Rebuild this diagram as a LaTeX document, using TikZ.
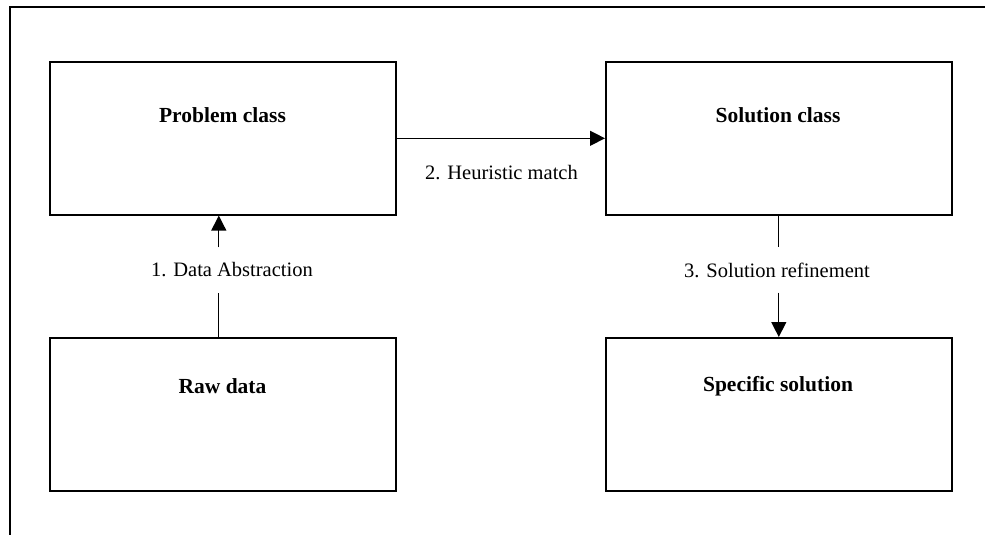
\documentclass[tikz,border=0pt]{standalone}
\usepackage{fontspec}
\setmainfont{Liberation Serif}
\usetikzlibrary{arrows.meta,calc}
\begin{document}
\begin{tikzpicture}[x=1pt,y=-1pt,
  box/.style={draw,line width=1.6pt,minimum width=346pt,minimum height=153pt,anchor=north west,inner sep=0pt},
  boxlabel/.style={font=\fontsize{21.5}{25}\selectfont\bfseries},
  conlabel/.style={font=\fontsize{20.5}{24}\selectfont,inner sep=0pt,minimum height=45pt},
  conn/.style={line width=1.3pt},
  tip/.style={-{Triangle[length=15pt,width=15pt]}}]
\useasboundingbox (0,0) rectangle (985,535);
\draw[line width=1.6pt] (10,535) -- (10,7) -- (985,7);
\node[box] (problem) at (49,61) {};
\node[box] (solution) at (605,61) {};
\node[box] (raw) at (49,337) {};
\node[box] (specific) at (605,337) {};
\node[boxlabel] (tp) at (222.5,115) {Problem class};
\node[boxlabel] (ts) at (778,115) {Solution class};
\node[boxlabel] (tr) at (222.5,386) {Raw data};
\node[boxlabel] (tsp) at (778,386) {Specific solution};
\node[conlabel] (l1) at (232,270) {1. Data Abstraction};
\node[conlabel] (l2) at (501.5,173) {2. Heuristic match};
\node[conlabel] (l3) at (777,270) {3. Solution refinement};
\draw[conn] ([xshift=-4pt]raw.north) -- ([xshift=-4pt]raw.north |- l1.south);
\draw[conn,tip] ([xshift=-4pt]raw.north |- l1.north) -- ([xshift=-4pt]problem.south);
\draw[conn,tip] (problem.east) -- (solution.west);
\draw[conn] (solution.south) -- (solution.south |- l3.north);
\draw[conn,tip] (solution.south |- l3.south) -- (specific.north);
\end{tikzpicture}
\end{document}
